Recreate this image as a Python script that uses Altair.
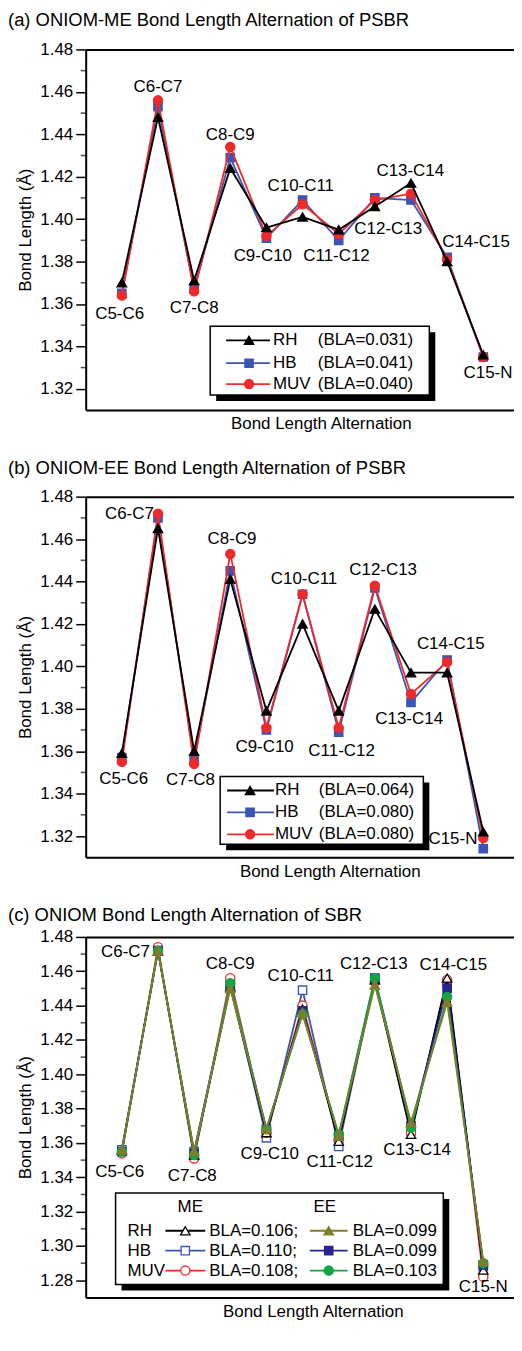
import altair as alt
import pandas as pd

# ---------------- data ----------------
bonds = ["C5-C6", "C6-C7", "C7-C8", "C8-C9", "C9-C10", "C10-C11",
         "C11-C12", "C12-C13", "C13-C14", "C14-C15", "C15-N"]
bond_pos = [1, 2, 3, 4, 5, 6, 7, 8, 9, 10, 11]

# (a) ONIOM-ME, PSBR
a_rh = [1.370, 1.448, 1.371, 1.424, 1.396, 1.401, 1.395, 1.406, 1.417, 1.380, 1.336]
a_hb = [1.365, 1.453, 1.367, 1.429, 1.391, 1.409, 1.390, 1.410, 1.409, 1.382, 1.335]
a_muv = [1.364, 1.456, 1.366, 1.434, 1.392, 1.407, 1.393, 1.409, 1.412, 1.381, 1.335]
a_label_x = [0.94, 2.0, 3.0, 4.0, 4.9, 5.95, 6.94, 8.37, 8.98, 10.8, 11.13]
a_label_y = [1.3553, 1.4623, 1.3581, 1.4395, 1.3828, 1.4158, 1.3828, 1.3953, 1.4228, 1.3893, 1.3274]
a_bla = ["(BLA=0.031)", "(BLA=0.041)", "(BLA=0.040)"]

# (b) ONIOM-EE, PSBR
b_rh = [1.359, 1.465, 1.360, 1.441, 1.379, 1.420, 1.379, 1.427, 1.397, 1.397, 1.322]
b_hb = [1.357, 1.470, 1.356, 1.445, 1.370, 1.434, 1.369, 1.437, 1.383, 1.403, 1.314]
b_muv = [1.355, 1.472, 1.354, 1.453, 1.371, 1.434, 1.371, 1.438, 1.387, 1.402, 1.319]
b_label_x = [1.05, 1.21, 2.9, 4.05, 4.95, 6.04, 7.08, 8.23, 8.95, 10.1, 10.16]
b_label_y = [1.3471, 1.4716, 1.3464, 1.4600, 1.3619, 1.4410, 1.3603, 1.4453, 1.3750, 1.4107, 1.3185]
b_bla = ["(BLA=0.064)", "(BLA=0.080)", "(BLA=0.080)"]

# (c) ONIOM, SBR
c_me_rh = [1.356, 1.472, 1.353, 1.451, 1.366, 1.438, 1.361, 1.455, 1.365, 1.456, 1.286]
c_me_hb = [1.356, 1.472, 1.355, 1.452, 1.363, 1.449, 1.358, 1.455, 1.367, 1.453, 1.288]
c_me_muv = [1.354, 1.474, 1.351, 1.456, 1.366, 1.440, 1.362, 1.454, 1.366, 1.455, 1.282]
c_ee_rh = [1.356, 1.472, 1.355, 1.450, 1.368, 1.436, 1.364, 1.452, 1.372, 1.442, 1.291]
c_ee_hb = [1.355, 1.472, 1.354, 1.452, 1.368, 1.437, 1.364, 1.456, 1.370, 1.450, 1.289]
c_ee_muv = [1.355, 1.472, 1.353, 1.453, 1.368, 1.435, 1.365, 1.456, 1.369, 1.445, 1.290]
c_label_x = [0.94, 1.10, 2.95, 4.0, 5.09, 5.95, 7.03, 7.97, 9.17, 10.17, 11.0]
c_label_y = [1.3432, 1.4713, 1.3407, 1.4642, 1.3538, 1.4573, 1.3490, 1.4642, 1.3557, 1.4636, 1.2761]
c_me_bla = ["BLA=0.106;", "BLA=0.110;", "BLA=0.108;"]
c_ee_bla = ["BLA=0.099", "BLA=0.099", "BLA=0.103"]

series_names = ["RH", "HB", "MUV"]

# ---------------- style ----------------
FONT = "Liberation Sans"
PLOT_W, PLOT_H = 430, 362
X_DOMAIN = [0, 11.85]
BLACK = "#000000"
BLUE = "#3a55b5"
RED = "#ee2a2a"
OLIVE = "#7d7d2b"
NAVY = "#26268c"
GREEN = "#12a545"
SHAPE = {"RH": "triangle-up", "HB": "square", "MUV": "circle"}
SIZE = {"RH": 90, "HB": 70, "MUV": 85}
FS = 17


def tick_values(lo, hi, step):
    n = int(round((hi - lo) * 100 / step))
    return [round(lo + k * step / 100, 2) for k in range(n + 1)]


def scales(lo, hi):
    xs = alt.Scale(domain=X_DOMAIN, nice=False, zero=False)
    ys = alt.Scale(domain=[lo, hi], nice=False, zero=False)
    return xs, ys


def series_layers(values, color, name, filled, xs, ys):
    df = pd.DataFrame({"pos": bond_pos, "bond": bonds, "length": values})
    base = alt.Chart(df).encode(
        x=alt.X("pos:Q", scale=xs, axis=None),
        y=alt.Y("length:Q", scale=ys, axis=None),
    )
    line = base.mark_line(color=color, strokeWidth=1.8)
    pts = base.mark_point(shape=SHAPE[name], filled=True,
                          fill=color if filled else "white", stroke=color,
                          strokeWidth=1.3, size=SIZE[name], opacity=1)
    return [line, pts]


def frame_layers(lx, ly, lo_tick, hi, xs, ys, title_x):
    df = pd.DataFrame({"pos": lx, "length": ly, "bond": bonds})
    yaxis = alt.Axis(
        values=tick_values(lo_tick, hi, 2), format=".2f",
        title="Bond Length (Å)", tickSize=10,
        labelPadding=3, titlePadding=5, grid=False, orient="left",
    )
    xaxis = alt.Axis(title="Bond Length Alternation", ticks=False, labels=False,
                     domain=True, grid=False, titleX=title_x, titlePadding=6,
                     orient="bottom", minExtent=0)
    bottom_left = alt.Chart(df).mark_point(opacity=0).encode(
        x=alt.X("pos:Q", scale=xs, axis=xaxis),
        y=alt.Y("length:Q", scale=ys, axis=yaxis),
    )
    top = alt.Chart(df).mark_point(opacity=0).encode(
        x=alt.X("pos:Q", scale=xs, axis=alt.Axis(orient="top", ticks=False, labels=False,
                                                  domain=True, grid=False, title=None,
                                                  minExtent=0, maxExtent=0)),
        y=alt.Y("length:Q", scale=ys, axis=None),
    )
    minor_df = pd.DataFrame({"tick": tick_values(lo_tick + 0.01, hi - 0.01, 2)})
    minor = alt.Chart(minor_df).mark_tick(color=BLACK, size=5, thickness=1.5).encode(
        y=alt.Y("tick:Q", scale=ys, axis=None), x=alt.value(-2.5))
    labels = alt.Chart(df).mark_text(font=FONT, fontSize=FS, color=BLACK,
                                     align="center", baseline="middle").encode(
        x=alt.X("pos:Q", scale=xs, axis=None),
        y=alt.Y("length:Q", scale=ys, axis=None),
        text="bond:N",
    )
    return [bottom_left, top, minor], labels


def box_layers(l, t, r, b, off=6):
    shadow = alt.Chart().mark_rect(color=BLACK).encode(
        x=alt.value(l + off), x2=alt.value(r + off), y=alt.value(t + off), y2=alt.value(b + off))
    box = alt.Chart().mark_rect(fill="white", stroke=BLACK, strokeWidth=1.5).encode(
        x=alt.value(l), x2=alt.value(r), y=alt.value(t), y2=alt.value(b))
    return [shadow, box]


def legend_entry(name, color, filled, y, x0, x1, xm):
    line = alt.Chart().mark_rule(color=color, strokeWidth=1.8).encode(
        x=alt.value(x0), x2=alt.value(x1), y=alt.value(y))
    pt = alt.Chart().mark_point(shape=SHAPE[name], filled=True,
                                fill=color if filled else "white", stroke=color,
                                strokeWidth=1.3, size=SIZE[name], opacity=1).encode(
        x=alt.value(xm), y=alt.value(y))
    return [line, pt]


def text_at(txt, x, y, align="left"):
    return alt.Chart().mark_text(font=FONT, fontSize=FS, color=BLACK, align=align,
                                 baseline="middle").encode(
        x=alt.value(x), y=alt.value(y), text=alt.value(txt))


def title(txt, offset):
    return alt.TitleParams(txt, anchor="start", frame="group", font=FONT, fontSize=18.5,
                           fontWeight="normal", color=BLACK, dx=-78, offset=offset)


def finish(layers, ttl, ttl_off):
    return alt.layer(*layers).resolve_axis(x="independent", y="independent").properties(
        width=PLOT_W, height=PLOT_H, title=title(ttl, ttl_off))


def simple_panel(vals, colors, lx, ly, bla, ttl, ttl_off, title_x, leg):
    xs, ys = scales(1.31, 1.48)
    frames, labels = frame_layers(lx, ly, 1.32, 1.48, xs, ys, title_x)
    layers = list(frames)
    for i in [1, 2, 0]:  # HB, MUV, RH on top
        layers += series_layers(vals[i], colors[i], series_names[i], True, xs, ys)
    layers.append(labels)
    l, t, r, b, rows, x0, x1, xm, xn, xb = leg
    layers += box_layers(l, t, r, b)
    for i, name in enumerate(series_names):
        layers += legend_entry(name, colors[i], True, rows[i], x0, x1, xm)
        layers.append(text_at(name, xn, rows[i]))
        layers.append(text_at(bla[i], xb, rows[i]))
    return finish(layers, ttl, ttl_off)


panel_a = simple_panel([a_rh, a_hb, a_muv], [BLACK, BLUE, RED], a_label_x, a_label_y, a_bla,
                       "(a) ONIOM-ME Bond Length Alternation of PSBR", 11, 236,
                       (125, 278, 345, 347, [292, 315, 336], 141, 185, 164, 188, 233))
panel_b = simple_panel([b_rh, b_hb, b_muv], [BLACK, BLUE, RED], b_label_x, b_label_y, b_bla,
                       "(b) ONIOM-EE Bond Length Alternation of PSBR", 10, 245,
                       (135, 281, 339, 349, [295, 317, 339], 142, 189, 165, 190, 234))

# panel c
xs_c, ys_c = scales(1.27, 1.48)
frames_c, labels_c = frame_layers(c_label_x, c_label_y, 1.28, 1.48, xs_c, ys_c, 228)
layers_c = list(frames_c)
me_vals = [c_me_rh, c_me_hb, c_me_muv]
ee_vals = [c_ee_rh, c_ee_hb, c_ee_muv]
me_cols = [BLACK, BLUE, RED]
ee_cols = [OLIVE, NAVY, GREEN]
for i in [1, 2, 0]:
    layers_c += series_layers(me_vals[i], me_cols[i], series_names[i], False, xs_c, ys_c)
for i in [1, 2, 0]:
    layers_c += series_layers(ee_vals[i], ee_cols[i], series_names[i], True, xs_c, ys_c)
layers_c.append(labels_c)
layers_c += box_layers(30, 257, 359, 349)
layers_c.append(text_at("ME", 105, 271, "center"))
layers_c.append(text_at("EE", 240, 271, "center"))
rows_c = [295, 315, 335]
for i, name in enumerate(series_names):
    layers_c.append(text_at(name, 42, rows_c[i]))
    layers_c += legend_entry(name, me_cols[i], False, rows_c[i], 80, 120, 100)
    layers_c.append(text_at(c_me_bla[i], 124, rows_c[i]))
    layers_c += legend_entry(name, ee_cols[i], True, rows_c[i], 225, 263, 244)
    layers_c.append(text_at(c_ee_bla[i], 268, rows_c[i]))
panel_c = finish(layers_c, "(c) ONIOM Bond Length Alternation of SBR", 3)

chart = alt.vconcat(panel_a, panel_b, panel_c, spacing=27).properties(
    padding={"left": 0, "top": 0, "right": 0, "bottom": 0}
).configure_view(stroke=None).configure_axis(
    labelFont=FONT, titleFont=FONT, labelFontSize=FS, titleFontSize=FS,
    labelColor=BLACK, titleColor=BLACK, domainColor=BLACK, tickColor=BLACK,
    domainWidth=2, tickWidth=1.5, titleFontWeight="normal",
)

chart.save("out.html", embed_options={"renderer": "svg", "actions": False})
